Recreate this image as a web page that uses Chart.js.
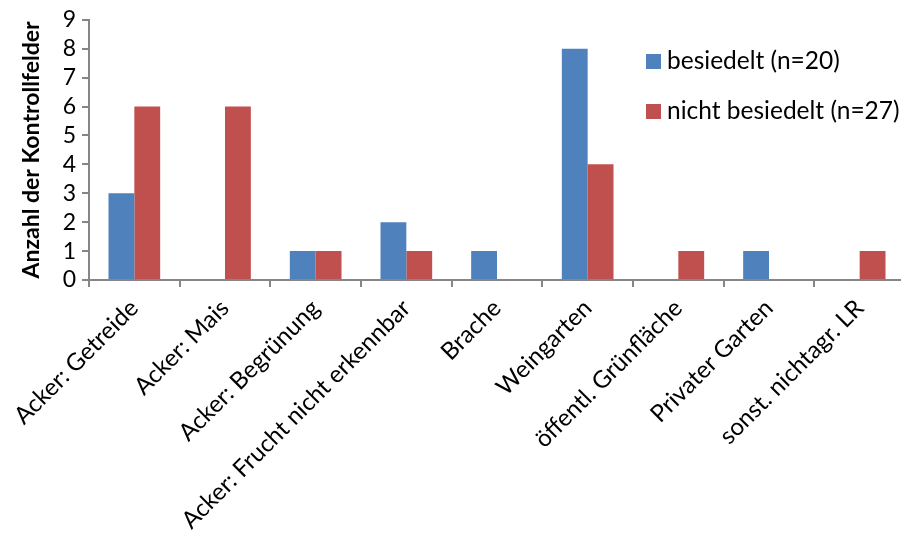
<!DOCTYPE html>
<html><head><meta charset="utf-8">
<script src="https://cdn.jsdelivr.net/npm/chart.js@4.4.1/dist/chart.umd.min.js"></script>
<style>html,body{margin:0;padding:0;overflow:hidden;background:#fff;width:901px;height:545px}</style>
</head><body>
<canvas id="c" width="905" height="545"></canvas>
<script>
const categories = ["Acker: Getreide","Acker: Mais","Acker: Begrünung","Acker: Frucht nicht erkennbar","Brache","Weingarten","öffentl. Grünfläche","Privater Garten","sonst. nichtagr. LR"];
const besiedelt = [3,0,1,2,1,8,0,1,0];
const nichtBesiedelt = [6,6,1,1,0,4,1,0,1];
const seriesNames = ["besiedelt (n=20)","nicht besiedelt (n=27)"];
const yTicks = [0,1,2,3,4,5,6,7,8,9];
const FONT = "Lato, 'Open Sans', sans-serif";

const legendPlugin = {
  id:'inlegend',
  afterDraw(chart){
    const ctx = chart.ctx;
    ctx.save();
    ctx.font = "24.5px " + FONT;
    ctx.textBaseline = 'middle';
    ctx.textAlign = 'left';
    const ys = [61,111];
    chart.data.datasets.forEach((ds,i)=>{
      ctx.fillStyle = ds.backgroundColor;
      ctx.fillRect(646, ys[i]-7, 15, 15);
      ctx.fillStyle = '#000';
      ctx.fillText(ds.label, 667, ys[i]);
    });
    ctx.restore();
  }
};

new Chart(document.getElementById('c'), {
  type:'bar',
  data:{
    labels: categories,
    datasets:[
      {label: seriesNames[0], data: besiedelt, backgroundColor:'#4F81BD', categoryPercentage:0.57, barPercentage:1},
      {label: seriesNames[1], data: nichtBesiedelt, backgroundColor:'#C0504D', categoryPercentage:0.57, barPercentage:1}
    ]
  },
  options:{
    responsive:false,
    animation:false,
    layout:{padding:{top:19,left:0,right:0,bottom:0}},
    plugins:{legend:{display:false}, tooltip:{enabled:false}},
    scales:{
      x:{
        grid:{display:true, drawOnChartArea:false, color:'#868686', tickLength:7, offset:true, lineWidth:2},
        border:{display:true, color:'#868686', width:2},
        ticks:{color:'#000', font:{size:24, family:FONT}, minRotation:45, maxRotation:45, padding:7, autoSkip:false},
        afterFit(scale){ scale.height = 265; }
      },
      y:{
        min:0, max:9,
        afterBuildTicks(scale){ scale.ticks = yTicks.map(v=>({value:v})); },
        grid:{display:true, drawOnChartArea:false, color:'#868686', tickLength:7, lineWidth:2},
        border:{display:true, color:'#868686', width:2},
        ticks:{color:'#000', font:{size:23, family:FONT}, padding:6, autoSkip:false},
        title:{display:true, text:'Anzahl der Kontrollfelder', color:'#000', font:{size:23, weight:'bold', family:FONT}, padding:{top:18,bottom:0}},
        afterFit(scale){ scale.width = 89; }
      }
    }
  },
  plugins:[legendPlugin]
});
</script>
</body></html>
